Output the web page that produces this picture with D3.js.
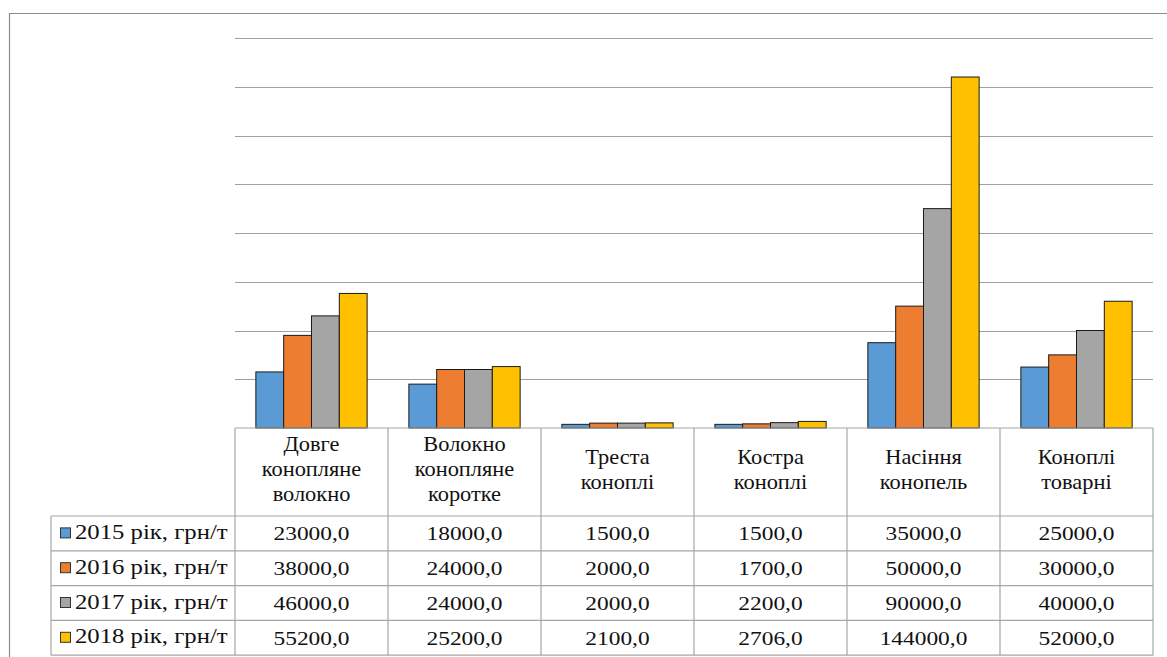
<!DOCTYPE html>
<html>
<head>
<meta charset="utf-8">
<script src="https://cdn.jsdelivr.net/npm/d3@7"></script>
<style>
  body { margin: 0; background: #fff; }
  svg { display: block; }
</style>
</head>
<body>
<svg id="chart" width="1167" height="657"></svg>
<script>
// categories (split into the lines shown in the table header)
const categories = [
  ["Довге", "конопляне", "волокно"],
  ["Волокно", "конопляне", "коротке"],
  ["Треста", "коноплі"],
  ["Костра", "коноплі"],
  ["Насіння", "конопель"],
  ["Коноплі", "товарні"]
];
const seriesNames = ["2015 рік, грн/т", "2016 рік, грн/т", "2017 рік, грн/т", "2018 рік, грн/т"];
const seriesColors = ["#5b9bd5", "#ed7d31", "#a5a5a5", "#ffc000"];

const values2015 = [23000, 18000, 1500, 1500, 35000, 25000];
const values2016 = [38000, 24000, 2000, 1700, 50000, 30000];
const values2017 = [46000, 24000, 2000, 2200, 90000, 40000];
const values2018 = [55200, 25200, 2100, 2706, 144000, 52000];
const seriesValues = [values2015, values2016, values2017, values2018];

const yMax = 160000;
const yStep = 20000;

// layout
const plotLeft = 235, plotRight = 1153, plotTop = 38, plotBottom = 428;
const headerBottom = 516, rowH = 34.8, legendLeft = 51;

const svg = d3.select("#chart");

// outer frame (only top and left edges are in view)
svg.append("path")
  .attr("d", "M9.5,657V13.5H1167")
  .attr("fill", "none")
  .attr("stroke", "#8c8c8c")
  .attr("stroke-width", 1.2);

const x = d3.scaleBand()
  .domain(d3.range(categories.length))
  .range([plotLeft, plotRight]);

const xs = d3.scaleBand()
  .domain(d3.range(seriesNames.length))
  .range([0, x.bandwidth()])
  .paddingOuter(0.75);

const y = d3.scaleLinear()
  .domain([0, yMax])
  .range([plotBottom, plotTop]);

// gridlines
svg.append("g")
  .selectAll("line")
  .data(d3.range(yStep, yMax + 1, yStep))
  .enter()
  .append("line")
  .attr("x1", plotLeft)
  .attr("x2", plotRight)
  .attr("y1", function(d) { return Math.round(y(d)) + 0.5; })
  .attr("y2", function(d) { return Math.round(y(d)) + 0.5; })
  .attr("stroke", "#a0a0a0")
  .attr("stroke-width", 1.2);

// bars
seriesValues.forEach(function(vals, s) {
  svg.append("g")
    .selectAll("rect")
    .data(vals)
    .enter()
    .append("rect")
    .attr("x", function(d, i) { return x(i) + xs(s); })
    .attr("y", function(d) { return y(d); })
    .attr("width", xs.bandwidth())
    .attr("height", function(d) { return plotBottom - y(d); })
    .attr("fill", seriesColors[s])
    .attr("stroke", "#1a1a1a")
    .attr("stroke-width", 1);
});

// data table lines
const tableBottom = headerBottom + rowH * seriesNames.length;
const grid = svg.append("g")
  .attr("stroke", "#a6a6a6")
  .attr("stroke-width", 1.2)
  .attr("fill", "none");

grid.append("line")
  .attr("x1", plotLeft).attr("x2", plotRight)
  .attr("y1", plotBottom).attr("y2", plotBottom);

d3.range(seriesNames.length + 1).forEach(function(r) {
  grid.append("line")
    .attr("x1", legendLeft).attr("x2", plotRight)
    .attr("y1", headerBottom + r * rowH).attr("y2", headerBottom + r * rowH);
});

grid.append("line")
  .attr("x1", legendLeft).attr("x2", legendLeft)
  .attr("y1", headerBottom).attr("y2", tableBottom);

d3.range(categories.length + 1).forEach(function(c) {
  const cx = c < categories.length ? x(c) : plotRight;
  grid.append("line")
    .attr("x1", cx).attr("x2", cx)
    .attr("y1", plotBottom).attr("y2", tableBottom);
});

// the source picture is stretched sideways, so text gets a horizontal scale
function addText(g, str, tx, ty, anchor, size, sx) {
  g.append("text")
    .attr("transform", "translate(" + tx + "," + ty + ") scale(" + sx + ",1)")
    .attr("text-anchor", anchor)
    .style("font-family", "'Liberation Serif'")
    .style("font-size", size + "px")
    .style("fill", "#111")
    .text(str);
}

// header: category names
const header = svg.append("g");
categories.forEach(function(lines, i) {
  const cx = x(i) + x.bandwidth() / 2;
  const lineH = 25;
  const mid = (plotBottom + headerBottom) / 2 + 4;
  const first = mid - (lines.length - 1) * lineH / 2;
  lines.forEach(function(l, k) {
    addText(header, l, cx, first + k * lineH, "middle", 20, 1.12);
  });
});

// value rows
const fmt = d3.format(".1f");
const body = svg.append("g");
seriesValues.forEach(function(vals, s) {
  const rowTop = headerBottom + s * rowH;
  const mid = rowTop + rowH / 2;

  body.append("rect")
    .attr("x", 60.5)
    .attr("y", mid - 5.5)
    .attr("width", 10)
    .attr("height", 10)
    .attr("fill", seriesColors[s])
    .attr("stroke", "#333")
    .attr("stroke-width", 1);

  addText(body, seriesNames[s], 75, mid + 5.5, "start", 21.5, 1.15);

  vals.forEach(function(v, i) {
    addText(body, fmt(v).replace(".", ","), x(i) + x.bandwidth() / 2, mid + 7, "middle", 19.5, 1.2);
  });
});
</script>
</body>
</html>
